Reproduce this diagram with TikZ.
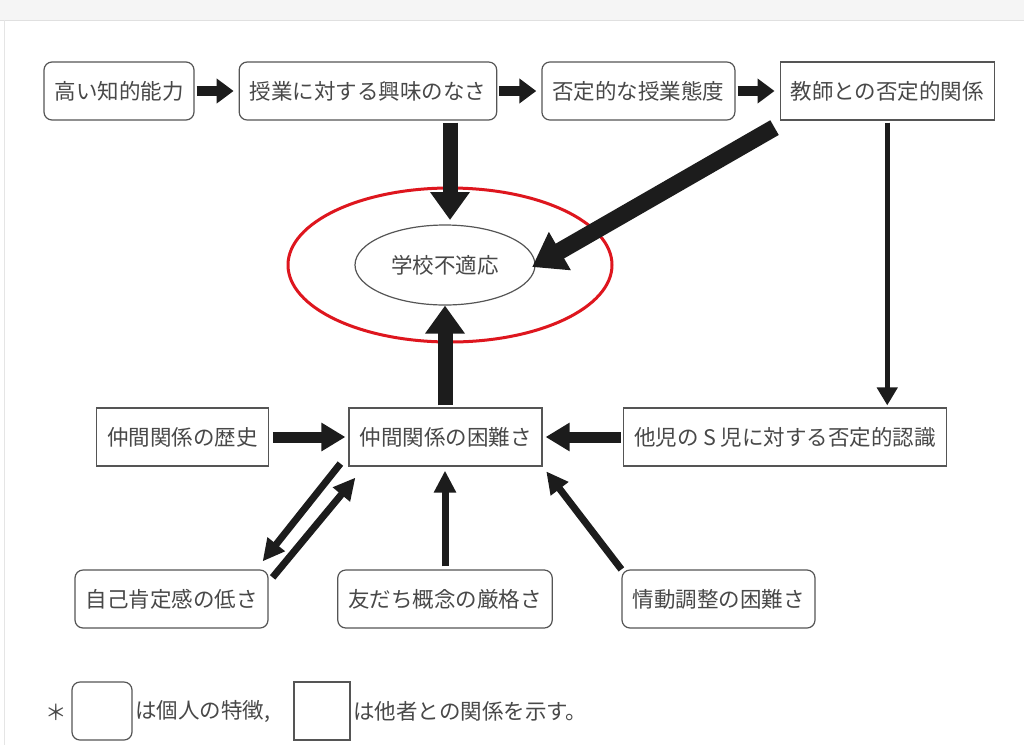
\documentclass[tikz,border=0pt]{standalone}
\usepackage{fontspec}
\setmainfont{Noto Sans CJK JP}
\usetikzlibrary{arrows.meta,positioning,shapes.geometric}
\definecolor{boxline}{RGB}{85,85,85}
\definecolor{textgray}{RGB}{72,72,72}
\definecolor{markred}{RGB}{222,22,30}
\definecolor{arrowblack}{RGB}{28,28,28}

\begin{document}
\begin{tikzpicture}[
    x=1pt, y=-1pt,
    node distance=44pt,
    trait/.style={rectangle, rounded corners=8pt, draw=boxline, line width=1.2pt, minimum height=58pt, inner xsep=10.5pt, text=textgray, font=\fontsize{21.5}{26}\selectfont},
    relation/.style={trait, sharp corners},
    result/.style={ellipse, draw=boxline, line width=1.2pt, minimum width=180pt, minimum height=80pt, text=textgray, font=\fontsize{21.5}{26}\selectfont},
    label/.style={text=textgray, inner sep=0pt, font=\fontsize{21.5}{26}\selectfont},
    flowarrow/.style={arrowblack, line width=10pt, -{Triangle[width=24pt,length=17pt]}, shorten <=2pt, shorten >=5pt},
    bigarrow/.style={arrowblack, line width=15pt, -{Triangle[width=38pt,length=28pt]}},
    midarrow/.style={arrowblack, line width=7pt, -{Triangle[width=21pt,length=22pt]}},
    thinarrow/.style={arrowblack, line width=4.5pt, -{Triangle[width=20pt,length=18pt]}}
]
    % page
    \useasboundingbox (0,0) rectangle (1024,745);
    \fill[white] (0,0) rectangle (1024,745);
    \fill[black!4] (0,0) rectangle (1024,20);
    \draw[black!12, line width=1pt] (0,20) -- (1024,20);
    \draw[black!10, line width=1pt] (4,20) -- (4,745);

    % top row
    \node[trait] (ability) at (119,91) {高い知的能力};
    \node[trait, right=of ability] (interest) {授業に対する興味のなさ};
    \node[trait, right=of interest] (attitude) {否定的な授業態度};
    \node[relation, right=of attitude] (teacher) {教師との否定的関係};

    % outcome
    \node[result] (maladapt) at (445,265) {学校不適応};
    \draw[markred, line width=3pt] (450,265) ellipse [x radius=162, y radius=77];

    % middle row
    \node[relation] (peers) at (445.5,437) {仲間関係の困難さ};
    \node[relation] (history) at (182.5,437) {仲間関係の歴史};
    \node[relation] (others) at (785,437) {他児の S 児に対する否定的認識};

    % bottom row
    \node[trait] (selfesteem) at (171.5,599) {自己肯定感の低さ};
    \node[trait] (friends) at (445,599) {友だち概念の厳格さ};
    \node[trait] (emotion) at (718.5,599) {情動調整の困難さ};

    % arrows
    \draw[flowarrow] (ability) -- (interest);
    \draw[flowarrow] (interest) -- (attitude);
    \draw[flowarrow] (attitude) -- (teacher);
    \draw[bigarrow, shorten <=2pt, shorten >=5pt] (interest.south -| 450,0) -- (450,225);
    \draw[bigarrow, line width=17pt, -{Triangle[width=42pt,length=32pt]}, shorten >=-4pt] ([shift={(-5,7)}]teacher.south west) -- (maladapt.east);
    \draw[thinarrow, shorten <=2pt, shorten >=2pt] (teacher.south) -- (teacher.south |- others.north);
    \draw[bigarrow, shorten <=2pt, shorten >=0pt] (peers.north -| maladapt.south) -- (maladapt.south);
    \draw[flowarrow, line width=11pt, -{Triangle[width=27pt,length=24pt]}, shorten <=4pt, shorten >=3pt] (history) -- (peers);
    \draw[flowarrow, line width=11pt, -{Triangle[width=27pt,length=24pt]}, shorten <=2pt, shorten >=3pt] (others) -- (peers);
    \draw[midarrow] ([shift={(-8,-3)}]peers.south west) -- ([shift={(-6,-8)}]selfesteem.north east);
    \draw[midarrow] ([shift={(4,8)}]selfesteem.north east) -- ([shift={(7,11)}]peers.south west);
    \draw[midarrow, shorten <=3pt, shorten >=4pt] (friends.north) -- (friends.north |- peers.south);
    \draw[midarrow, shorten >=6pt] (emotion.north west) -- (peers.south east);

    % legend
    \node[label] (star) at (56,712) {＊};
    \node[trait, minimum width=60pt] (legtrait) at (102,711) {};
    \node[label, anchor=west] (legtraittext) at (135,711) {は個人の特徴,};
    \node[relation, minimum width=56pt] (legrel) at (322,711) {};
    \node[label, anchor=west] (legreltext) at (353,711) {は他者との関係を示す。};
\end{tikzpicture}
\end{document}
